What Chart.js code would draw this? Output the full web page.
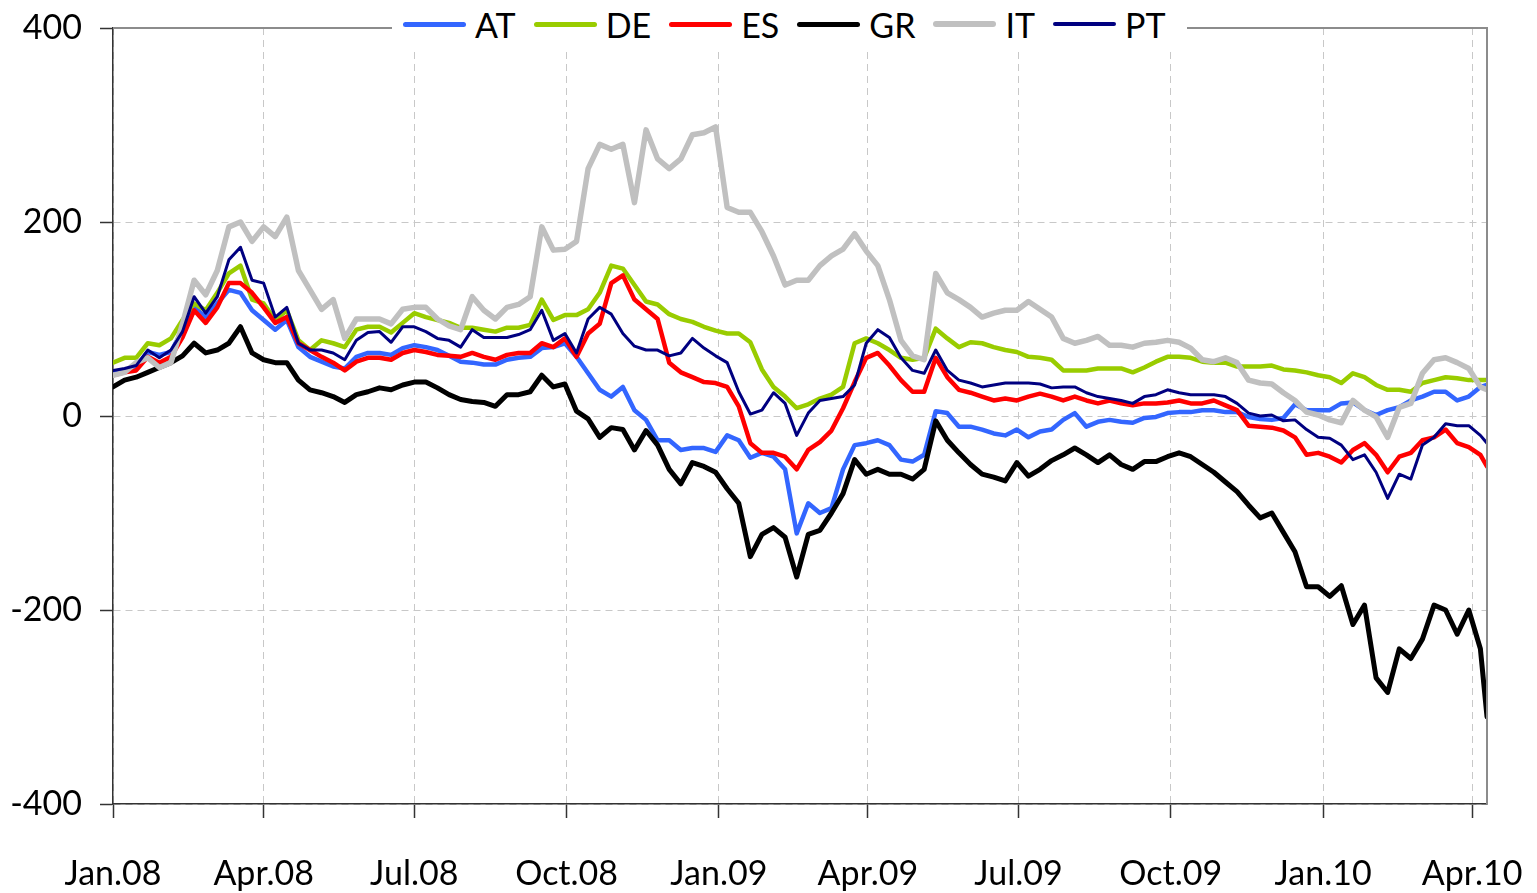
<!DOCTYPE html>
<html><head><meta charset="utf-8">
<script src="https://cdn.jsdelivr.net/npm/chart.js@4.4.1/dist/chart.umd.min.js"></script>
<style>
html,body{margin:0;padding:0;background:#fff;}
#wrap{position:relative;width:1537px;height:893px;overflow:hidden;}
#legend{position:absolute;top:0px;left:392px;width:795px;height:48px;background:#fff;display:flex;align-items:center;box-sizing:border-box;padding-left:11px;font-family:Lato,"DejaVu Sans",sans-serif;font-size:34px;color:#000;}
.item{display:flex;align-items:center;margin-right:18px;white-space:nowrap;}
.swatch{width:63px;border-radius:3px;margin-right:9px;}
</style></head>
<body>
<div id="wrap"><canvas id="c" width="1537" height="893" style="width:1537px;height:893px"></canvas><div id="legend"></div></div>
<script>
// days since 1 Jan 2008 (weekly readings)
const days = [0,7,14,21,28,35,42,49,56,63,70,77,84,91,98,105,112,119,126,133,140,147,154,161,168,175,182,189,196,203,210,217,224,231,238,245,252,259,266,273,280,287,294,301,308,315,322,329,336,343,350,357,364,371,378,385,392,399,406,413,420,427,434,441,448,455,462,469,476,483,490,497,504,511,518,525,532,539,546,553,560,567,574,581,588,595,602,609,616,623,630,637,644,651,658,665,672,679,686,693,700,707,714,721,728,735,742,749,756,763,770,777,784,791,798,805,812,819,826,830];

const AT = [44,47,51,66,63,66,89,112,102,116,130,127,109,99,89,99,71,61,56,51,49,61,65,65,63,70,73,71,68,62,56,55,53,53,58,60,61,70,71,75,61,44,27,20,30,6,-4,-25,-25,-35,-33,-33,-37,-20,-25,-43,-38,-42,-55,-121,-90,-100,-95,-55,-30,-28,-25,-30,-45,-47,-40,5,3,-11,-11,-14,-18,-20,-14,-22,-16,-14,-4,3,-11,-6,-4,-6,-7,-2,-1,3,4,4,6,6,4,4,-1,-3,-4,-2,12,6,6,6,13,14,6,1,6,9,16,20,25,25,16,20,30,32];
const DE = [55,60,60,75,73,80,99,116,109,127,147,155,120,116,99,109,78,68,78,75,71,89,92,92,86,96,106,102,99,96,91,91,89,87,91,91,94,120,99,104,104,110,127,155,152,135,118,115,105,100,97,92,88,85,85,76,48,30,20,8,12,18,22,30,75,80,75,68,60,58,60,90,80,71,76,75,71,68,66,61,60,58,47,47,47,49,49,49,45,50,56,61,61,60,56,55,55,51,51,51,52,48,47,45,42,40,34,44,40,32,27,27,25,34,37,40,39,37,37,37];
const ES = [42,45,47,61,55,61,81,109,96,112,137,137,127,112,96,102,75,68,61,55,47,56,60,60,58,65,68,66,63,62,61,65,61,58,63,65,65,75,71,80,61,85,95,137,145,120,110,100,55,45,40,35,34,30,10,-28,-38,-38,-42,-55,-35,-27,-15,8,35,60,65,52,37,25,25,60,40,27,24,20,16,18,16,20,23,20,16,20,16,13,16,13,11,13,13,14,16,13,13,16,11,6,-10,-11,-12,-15,-22,-40,-38,-42,-48,-35,-28,-40,-58,-42,-38,-25,-22,-14,-28,-32,-40,-52];
const GR = [30,37,40,45,50,55,62,75,65,68,75,92,65,58,55,55,37,27,24,20,14,22,25,29,27,32,35,35,29,22,17,15,14,10,22,22,25,42,30,33,5,-3,-22,-12,-14,-35,-15,-30,-55,-70,-48,-52,-58,-75,-90,-145,-122,-115,-125,-166,-122,-118,-100,-80,-45,-60,-55,-60,-60,-65,-55,-5,-25,-38,-50,-60,-63,-67,-48,-62,-55,-46,-40,-33,-40,-48,-40,-50,-55,-47,-47,-42,-38,-42,-50,-58,-68,-78,-92,-105,-100,-120,-140,-176,-176,-186,-175,-215,-195,-270,-285,-240,-250,-230,-195,-200,-225,-200,-240,-310];
const IT = [42,45,55,60,50,55,95,140,125,150,195,200,180,195,185,205,150,130,110,120,80,100,100,100,95,110,112,112,100,93,89,123,109,100,112,115,123,195,171,172,180,255,280,275,280,220,295,265,255,265,290,292,298,215,210,210,190,165,135,140,140,155,165,172,188,170,155,120,78,62,58,147,127,120,112,102,106,109,109,118,110,102,80,75,78,82,73,73,71,75,76,78,76,70,58,56,60,55,37,34,33,24,16,4,1,-4,-7,16,6,-1,-22,9,13,44,58,60,55,49,30,27];
const PT = [47,49,52,68,60,68,87,123,106,123,161,174,140,137,102,112,75,68,68,65,58,78,86,87,76,92,92,87,80,78,71,89,81,81,81,84,89,109,78,85,65,100,112,105,85,72,68,68,62,65,80,70,62,55,25,2,6,24,13,-20,3,16,18,20,32,75,89,81,60,47,44,68,47,37,34,30,32,34,34,34,33,29,30,30,24,20,18,16,13,20,22,27,24,22,22,22,20,13,3,0,1,-5,-4,-14,-22,-23,-30,-45,-40,-58,-85,-60,-65,-30,-22,-8,-10,-10,-20,-28];

const seriesNames = ['AT','DE','ES','GR','IT','PT'];
const tickDays = [0,91,182,274,366,456,547,639,731,821];
const tickLabels = ['Jan.08','Apr.08','Jul.08','Oct.08','Jan.09','Apr.09','Jul.09','Oct.09','Jan.10','Apr.10'];
const yTicks = [400,200,0,-200,-400];
const yTickLabels = ['400','200','0','-200','-400'];

const styles = {
  AT:{color:'#3366ff', width:4.5, order:5},
  DE:{color:'#99cc00', width:4.5, order:4},
  ES:{color:'#ff0000', width:4.5, order:3},
  GR:{color:'#000000', width:5, order:2},
  IT:{color:'#c0c0c0', width:5.5, order:1},
  PT:{color:'#000080', width:3, order:0}
};
const values = {AT, DE, ES, GR, IT, PT};

const FONT = {family:'Lato, "DejaVu Sans", sans-serif', size:34};

const frame = {
  id:'frame',
  afterDatasetsDraw(chart){
    const a = chart.chartArea, c = chart.ctx;
    c.save();
    c.strokeStyle = '#8c8c8c';
    c.lineWidth = 2;
    c.beginPath();
    c.moveTo(a.left, a.top);
    c.lineTo(a.right, a.top);
    c.lineTo(a.right, a.bottom);
    c.stroke();
    c.restore();
  }
};

new Chart(document.getElementById('c'), {
  type:'line',
  data:{
    datasets: seriesNames.map(n => ({
      label:n,
      data: days.map((d,i)=>({x:d, y:values[n][i]})),
      borderColor: styles[n].color,
      backgroundColor: styles[n].color,
      borderWidth: styles[n].width,
      order: styles[n].order,
      pointRadius:0,
      tension:0,
      fill:false
    }))
  },
  options:{
    responsive:false,
    animation:false,
    layout:{padding:{top:28,right:50,left:0,bottom:0}},
    plugins:{legend:{display:false}, tooltip:{enabled:false}},
    elements:{line:{borderJoinStyle:'round', borderCapStyle:'round'}},
    scales:{
      x:{
        type:'linear', min:0, max:830,
        afterBuildTicks: s => { s.ticks = tickDays.map(v => ({value:v})); },
        afterFit: s => { s.height = 89; s.paddingLeft = 0; s.paddingRight = 0; },
        ticks:{
          autoSkip:false, maxRotation:0, minRotation:0,
          font:FONT, color:'#000', padding:36,
          callback: v => tickLabels[tickDays.indexOf(v)]
        },
        grid:{color:'#c8c8c8', lineWidth:1, tickLength:14, tickColor:'#333', tickWidth:1.5, tickBorderDash:[]},
        border:{color:'#333', width:1.5, dash:[7,5]}
      },
      y:{
        min:-400, max:400,
        afterBuildTicks: s => { s.ticks = yTicks.map(v => ({value:v})); },
        afterFit: s => { s.width = 113; s.paddingTop = 0; s.paddingBottom = 0; },
        ticks:{
          font:FONT, color:'#000', padding:18,
          callback: v => yTickLabels[yTicks.indexOf(v)]
        },
        grid:{color:'#c8c8c8', lineWidth:1, tickLength:13, tickColor:'#333', tickWidth:1.5, tickBorderDash:[]},
        border:{color:'#333', width:1.5, dash:[7,5]}
      }
    }
  },
  plugins:[frame]
});

// legend
const lg = document.getElementById('legend');
seriesNames.forEach(n => {
  const it = document.createElement('div'); it.className = 'item';
  const sw = document.createElement('span'); sw.className = 'swatch';
  sw.style.background = styles[n].color;
  sw.style.height = (n === 'PT' ? 4 : (n === 'IT' ? 6 : 5)) + 'px';
  const t = document.createElement('span'); t.textContent = n;
  it.appendChild(sw); it.appendChild(t); lg.appendChild(it);
});
</script>
</body></html>
